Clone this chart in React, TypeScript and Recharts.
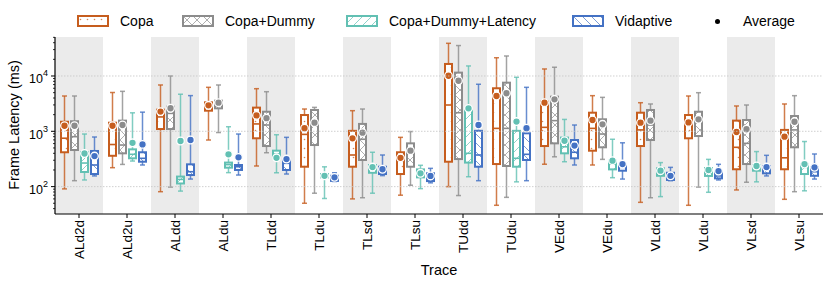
import React from 'react';
import { ComposedChart, Bar, XAxis, YAxis, ReferenceArea, ReferenceLine } from 'recharts';

const FONT = '"Liberation Sans", Arial, Helvetica, sans-serif';

const traces = [
  'ALd2d', 'ALd2u', 'ALdd', 'ALdu', 'TLdd', 'TLdu', 'TLsd', 'TLsu',
  'TUdd', 'TUdu', 'VEdd', 'VEdu', 'VLdd', 'VLdu', 'VLsd', 'VLsu',
];

// each entry: [low whisker, q1, median, q3, high whisker, mean] in ms
const copa = [
  [91, 418, 750, 1490, 4350, 1260],
  [220, 361, 577, 1430, 5030, 1260],
  [81, 1100, 1820, 2460, 6880, 2270],
  [696, 2360, 2870, 3340, 6240, 2950],
  [236, 748, 1360, 2680, 5900, 1940],
  [50, 229, 880, 1970, 2530, 1140],
  [60, 229, 373, 1020, 2360, 748],
  [70, 169, 294, 418, 778, 332],
  [100, 282, 2990, 16500, 39000, 10100],
  [46, 256, 1130, 6000, 21400, 4350],
  [254, 542, 1180, 3430, 13400, 3300],
  [246, 446, 1130, 2170, 4410, 1600],
  [52, 542, 1060, 2170, 3290, 1430],
  [46, 748, 1490, 1970, 4350, 1450],
  [87, 206, 514, 1560, 2870, 971],
  [59, 206, 332, 1060, 3120, 800],
];

const copaDummy = [
  [128, 459, 800, 1520, 4350, 1260],
  [252, 400, 565, 1560, 5280, 1300],
  [98, 1100, 2110, 2780, 10000, 2610],
  [950, 2600, 3120, 3580, 6880, 3300],
  [410, 542, 1300, 2260, 5200, 1730],
  [76, 565, 1470, 2430, 2710, 1430],
  [63, 303, 718, 1360, 2530, 946],
  [106, 229, 492, 606, 990, 446],
  [69, 315, 2170, 11500, 35500, 8200],
  [64, 236, 1130, 7570, 23000, 4880],
  [346, 606, 1560, 4230, 14400, 3790],
  [311, 514, 893, 1650, 4110, 1340],
  [63, 696, 1300, 2430, 3120, 1560],
  [98, 822, 1840, 2260, 4990, 1650],
  [120, 256, 606, 1600, 2990, 1090],
  [81, 514, 1060, 1890, 4410, 1490],
];

const copaDummyLatency = [
  [132, 184, 267, 423, 893, 397],
  [290, 325, 384, 472, 2160, 620],
  [83, 114, 135, 152, 4680, 668],
  [179, 220, 250, 272, 1210, 384],
  [178, 338, 389, 447, 867, 332],
  [61, 147, 158, 169, 228, 157],
  [76, 178, 217, 246, 418, 226],
  [92, 147, 174, 205, 243, 174],
  [151, 272, 400, 2360, 15200, 2600],
  [122, 229, 325, 1020, 9480, 1500],
  [282, 400, 525, 770, 1640, 675],
  [145, 205, 256, 294, 718, 294],
  [66, 157, 186, 214, 272, 194],
  [79, 156, 176, 217, 311, 200],
  [122, 194, 223, 246, 430, 236],
  [84, 169, 223, 256, 654, 256],
];

const vidaptive = [
  [156, 169, 246, 441, 789, 357],
  [246, 282, 325, 418, 2220, 580],
  [137, 162, 186, 253, 4420, 696],
  [162, 200, 229, 246, 893, 338],
  [169, 200, 264, 303, 778, 315],
  [124, 127, 143, 157, 178, 147],
  [158, 169, 200, 229, 373, 206],
  [117, 126, 151, 174, 214, 156],
  [128, 229, 373, 1020, 7090, 1300],
  [128, 303, 384, 920, 6240, 1140],
  [246, 325, 418, 696, 1300, 553],
  [137, 194, 223, 240, 620, 256],
  [128, 132, 151, 178, 223, 157],
  [132, 141, 156, 186, 253, 191],
  [156, 174, 200, 236, 368, 226],
  [137, 157, 186, 223, 389, 223],
];

const yMajor = [100, 1000, 10000];
const yTicks = [40, 50, 60, 70, 80, 90, 100, 200, 300, 400, 500, 600, 700, 800, 900,
  1000, 2000, 3000, 4000, 5000, 6000, 7000, 8000, 9000, 10000, 20000, 30000, 40000, 50000];

const SERIES = [
  { key: 'copa', name: 'Copa', color: '#c65d1e', hatch: 'hDots' },
  { key: 'copaDummy', name: 'Copa+Dummy', color: '#8c8c8c', hatch: 'hCross' },
  { key: 'copaDummyLatency', name: 'Copa+Dummy+Latency', color: '#62c0b3', hatch: 'hSlash' },
  { key: 'vidaptive', name: 'Vidaptive', color: '#4472c4', hatch: 'hBack' },
];

const data = traces.map((t, i) => ({
  trace: t,
  copa: copa[i],
  copaDummy: copaDummy[i],
  copaDummyLatency: copaDummyLatency[i],
  vidaptive: vidaptive[i],
}));

const Patterns = ({ prefix }: { prefix: string }) => (
  <defs>
    <pattern id={prefix + 'hDots'} patternUnits="userSpaceOnUse" width="7" height="9">
      <circle cx="3.5" cy="4.5" r="0.8" fill="#c65d1e" fillOpacity={0.75} />
    </pattern>
    <pattern id={prefix + 'hCross'} patternUnits="userSpaceOnUse" width="10" height="10">
      <path d="M0,0 L10,10 M10,0 L0,10" stroke="#8c8c8c" strokeWidth="0.7" fill="none" />
    </pattern>
    <pattern id={prefix + 'hSlash'} patternUnits="userSpaceOnUse" width="9" height="9">
      <path d="M0,9 L9,0 M-2,2 L2,-2 M7,11 L11,7" stroke="#62c0b3" strokeWidth="0.7" fill="none" />
    </pattern>
    <pattern id={prefix + 'hBack'} patternUnits="userSpaceOnUse" width="9" height="9">
      <path d="M0,0 L9,9 M-2,7 L2,11 M7,-2 L11,2" stroke="#4472c4" strokeWidth="0.7" fill="none" />
    </pattern>
  </defs>
);

const boxShape = (key: string, color: string, hatch: string) => (props: any) => {
  const { x, y, width, height, payload } = props;
  const s = payload && payload[key];
  if (!s || !height) return <g />;
  const [lo, q1, med, q3, hi, mean] = s;
  const top = Math.min(y, y + height);
  const span = Math.abs(height);
  const lhi = Math.log(hi);
  const llo = Math.log(lo);
  // position inside the bar's own [low, high] pixel range (log spacing, same as the axis)
  const py = (v: number) => top + ((lhi - Math.log(v)) / (lhi - llo)) * span;
  const cx = x + width / 2;
  const bw = width - 2;
  const yq3 = py(q3);
  const yq1 = py(q1);
  return (
    <g>
      <line x1={cx} x2={cx} y1={py(hi)} y2={yq3} stroke={color} strokeOpacity={0.8} strokeWidth={1.5} />
      <line x1={cx} x2={cx} y1={yq1} y2={py(lo)} stroke={color} strokeOpacity={0.8} strokeWidth={1.5} />
      <line x1={cx - 2.5} x2={cx + 2.5} y1={py(hi)} y2={py(hi)} stroke={color} strokeOpacity={0.8} strokeWidth={1.5} />
      <line x1={cx - 2.5} x2={cx + 2.5} y1={py(lo)} y2={py(lo)} stroke={color} strokeOpacity={0.8} strokeWidth={1.5} />
      <rect x={cx - bw / 2} y={yq3} width={bw} height={yq1 - yq3} fill="#fff" />
      <rect x={cx - bw / 2} y={yq3} width={bw} height={yq1 - yq3} fill={`url(#c${hatch})`} stroke={color} strokeWidth={2} />
      <line x1={cx - bw / 2} x2={cx + bw / 2} y1={py(med)} y2={py(med)} stroke={color} strokeWidth={1.6} />
      <circle cx={cx} cy={py(mean)} r={3.8} fill={color} stroke="#fff" strokeWidth={1.3} />
    </g>
  );
};

const YTick = (props: any) => {
  const { x, y, payload } = props;
  const v = payload.value;
  const lg = Math.log10(v);
  const exp = Math.round(lg);
  const major = Math.abs(lg - exp) < 1e-6;
  if (!major) {
    return <line x1={x - 2} x2={x} y1={y} y2={y} stroke="#000" strokeWidth={0.8} />;
  }
  return (
    <g>
      <line x1={x - 4} x2={x} y1={y} y2={y} stroke="#000" strokeWidth={1} />
      <text x={x - 7} y={y + 7.5} textAnchor="end" fontSize={12.5} fontFamily={FONT} fill="#000">
        10<tspan dy={-7} fontSize={9}>{exp}</tspan>
      </text>
    </g>
  );
};

const XTick = (props: any) => {
  const { x, y, payload } = props;
  return (
    <text
      x={x}
      y={y}
      transform={`rotate(-90, ${x}, ${y})`}
      textAnchor="end"
      dominantBaseline="central"
      fontSize={13.5}
      fontFamily={FONT}
      fill="#000"
    >
      {payload.value}
    </text>
  );
};

const LegendPatch = ({ color, hatch }: { color: string; hatch: string }) => (
  <svg width={32} height={12} style={{ display: 'block' }}>
    <Patterns prefix="l" />
    <rect x={1} y={1} width={30} height={10} fill="#fff" />
    <rect x={1} y={1} width={30} height={10} fill={`url(#l${hatch})`} stroke={color} strokeWidth={2} />
  </svg>
);

const legendPos = [
  { patch: 77, text: 120 },
  { patch: 182, text: 225 },
  { patch: 346, text: 389 },
  { patch: 572, text: 615 },
];

const Legend = () => (
  <div style={{ position: 'absolute', left: 0, top: 0, width: 830, height: 36, fontFamily: FONT, fontSize: 14 }}>
    {SERIES.map((s, i) => (
      <React.Fragment key={s.key}>
        <div style={{ position: 'absolute', left: legendPos[i].patch, top: 15 }}>
          <LegendPatch color={s.color} hatch={s.hatch} />
        </div>
        <div style={{ position: 'absolute', left: legendPos[i].text, top: 12, lineHeight: '18px' }}>{s.name}</div>
      </React.Fragment>
    ))}
    <div style={{ position: 'absolute', left: 715, top: 19, width: 5, height: 5, borderRadius: 3, background: '#000' }} />
    <div style={{ position: 'absolute', left: 743, top: 12, lineHeight: '18px' }}>Average</div>
  </div>
);

export default function App() {
  return (
    <div style={{ position: 'absolute', left: 0, top: 0, width: 830, height: 287, background: '#fff' }}>
      <ComposedChart
        width={830}
        height={287}
        data={data}
        margin={{ top: 37, right: 7, bottom: 18, left: 15 }}
        barGap={1}
      >
        <Patterns prefix="c" />
        {traces.filter((_, i) => i % 2 === 0).map((t) => (
          <ReferenceArea key={t} x1={t} x2={t} fill="#ebebeb" fillOpacity={1} stroke="none" ifOverflow="visible" />
        ))}
        {yMajor.map((v) => (
          <ReferenceLine key={v} y={v} stroke="#c4c4c4" strokeDasharray="1.5 1.5" strokeWidth={0.8} />
        ))}
        <XAxis
          dataKey="trace"
          type="category"
          interval={0}
          height={55}
          tickSize={4}
          tickMargin={2}
          axisLine={{ stroke: '#000', strokeWidth: 1.2 }}
          tickLine={{ stroke: '#000' }}
          tick={<XTick />}
          label={{
            content: () => (
              <text x={439} y={270} textAnchor="middle" dominantBaseline="central" fontSize={14.5} fontFamily={FONT} fill="#000">
                Trace
              </text>
            ),
          }}
        />
        <YAxis
          type="number"
          scale="log"
          domain={[32, 50700]}
          allowDataOverflow
          ticks={yTicks}
          interval={0}
          width={40}
          tickSize={0}
          tickMargin={0}
          tickLine={false}
          axisLine={{ stroke: '#000', strokeWidth: 1.2 }}
          tick={<YTick />}
          label={{
            content: () => (
              <text x={14} y={125} transform="rotate(-90, 14, 125)" textAnchor="middle" dominantBaseline="central" fontSize={14.5} fontFamily={FONT} fill="#000">
                Frame Latency (ms)
              </text>
            ),
          }}
        />
        {SERIES.map((s) => (
          <Bar
            key={s.key}
            name={s.name}
            dataKey={(d: any) => [d[s.key][0], d[s.key][4]]}
            barSize={9}
            isAnimationActive={false}
            shape={boxShape(s.key, s.color, s.hatch)}
          />
        ))}
      </ComposedChart>
      <Legend />
    </div>
  );
}
